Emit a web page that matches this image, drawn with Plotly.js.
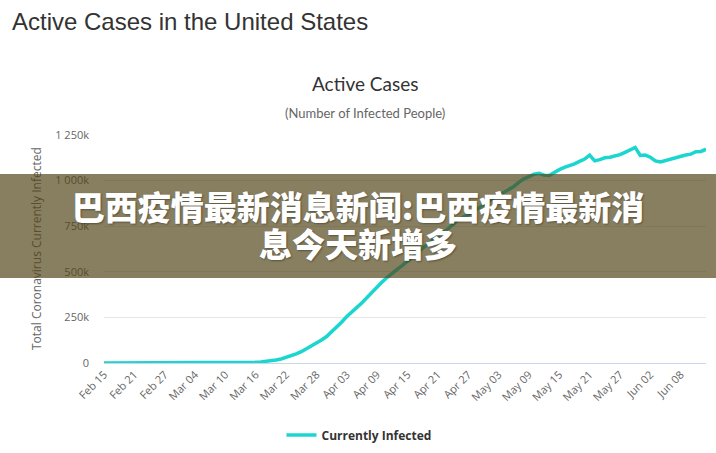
<!DOCTYPE html>
<html>
<head>
<meta charset="utf-8">
<script src="https://cdn.plot.ly/plotly-3.0.1.min.js"></script>
<style>
html,body{margin:0;padding:0;background:#fff;}
#wrap{position:relative;width:716px;height:453px;overflow:hidden;}
#chart{position:absolute;left:0;top:0;width:716px;height:453px;}
#banner{position:absolute;left:0;top:174px;width:716px;height:104px;background:rgba(80,66,20,0.68);
  display:flex;align-items:center;justify-content:center;text-align:center;pointer-events:none;}
#banner span{font-family:"Noto Sans CJK SC","Noto Sans",sans-serif;font-weight:900;font-size:33px;line-height:37px;color:#fff;
  text-shadow:1px 1px 2px rgba(0,0,0,0.35);display:block;width:640px;margin-top:-2px;}
</style>
</head>
<body>
<div id="wrap">
<div id="chart"></div>
<div id="banner"><span>巴西疫情最新消息新闻:巴西疫情最新消<br>息今天新增多</span></div>
</div>
<script>
// ---- data ----
const startDate = "2020-02-15";
// Currently infected (thousands), daily from Feb 15 to Jun 13, 2020
const activeK = [
  0.01,0.01,0.01,0.01,0.02,0.02,0.02,0.03,0.03,0.04,0.04,0.05,0.05,0.05,0.06, // Feb 15-29
  0.06,0.07,0.08,0.1,0.15,0.2,0.3,0.4,0.6,0.8,1.1,1.5,2.0,2.5,3.2,4.2,5.8,8,12,17,22,30,40,50,62,77,94,110,126,145,170, // Mar 1-31
  196,225,255,283,305,330,360,390,420,445,470,495,515,535,560,585,610,630,650,670,690,710,735,760,785,800,812,830,848,866, // Apr 1-30
  888,905,918,935,950,968,990,1010,1022,1035,1040,1030,1028,1045,1060,1072,1080,1092,1105,1118,1140,1108,1115,1125,1128,1135,1142,1155,1170,1182,1138, // May 1-31
  1140,1128,1108,1102,1110,1120,1128,1135,1140,1145,1158,1160,1172 // Jun 1-13
];
const tickDates = ["2020-02-15","2020-02-21","2020-02-27","2020-03-04","2020-03-10","2020-03-16","2020-03-22","2020-03-28","2020-04-03","2020-04-09","2020-04-15","2020-04-21","2020-04-27","2020-05-03","2020-05-09","2020-05-15","2020-05-21","2020-05-27","2020-06-02","2020-06-08"];
const tickLabels = ["Feb 15","Feb 21","Feb 27","Mar 04","Mar 10","Mar 16","Mar 22","Mar 28","Apr 03","Apr 09","Apr 15","Apr 21","Apr 27","May 03","May 09","May 15","May 21","May 27","Jun 02","Jun 08"];
const yTickVals = [0,250000,500000,750000,1000000,1250000];
const yTickText = ["0","250k","500k","750k","1 000k","1 250k"];
const seriesName = "Currently Infected";

// ---- build ----
const dates = [];
const values = [];
const d0 = new Date(startDate + "T00:00:00Z");
for (let i = 0; i < activeK.length; i++) {
  const d = new Date(d0.getTime() + i * 86400000);
  dates.push(d.toISOString().slice(0,10));
  values.push(activeK[i] * 1000);
}

const L = 104, R = 10, T = 135, B = 90, W = 716, H = 453;
const pw = W - L - R, ph = H - T - B;
const px = x => (x - L) / pw;
const py = y => (H - B - y) / ph;

const trace = {
  x: dates, y: values, type: "scatter", mode: "lines", name: seriesName,
  line: {color: "#1bd6cf", width: 3.5},
  hoverinfo: "x+y"
};

const layout = {
  width: W, height: H,
  margin: {l: L, r: R, t: T, b: B, pad: 0, autoexpand: false},
  paper_bgcolor: "#fff", plot_bgcolor: "#fff",
  showlegend: true,
  legend: {orientation: "h", x: px(359), xanchor: "center", y: py(435), yanchor: "middle",
    itemwidth: 30,
    font: {family: "Open Sans, sans-serif", size: 12, color: "#333", weight: "bold"}},
  xaxis: {type: "date", range: [dates[0], dates[dates.length-1]], tickvals: tickDates, ticktext: tickLabels,
    tickangle: -45, tickfont: {family: "Open Sans, sans-serif", size: 11, color: "#666"}, automargin: false,
    showgrid: false, zeroline: false, showline: true, linecolor: "#ccd6eb", linewidth: 1, ticks: "", fixedrange: true},
  yaxis: {range: [0, 1250000], tickvals: yTickVals, ticktext: yTickText, automargin: false,
    tickfont: {family: "Open Sans, sans-serif", size: 11, color: "#666"},
    showgrid: true, gridcolor: "#e6e6e6", gridwidth: 1, zeroline: false, showline: false, ticks: "",
    ticklabelstandoff: 14, fixedrange: true},
  annotations: [
    {text: "Active Cases in the United States", xref: "paper", yref: "paper", x: px(10), y: py(22),
     xanchor: "left", yanchor: "middle", showarrow: false,
     font: {family: "Liberation Sans, Arial, sans-serif", size: 24, color: "#333"}},
    {text: "Active Cases", xref: "paper", yref: "paper", x: px(365), y: py(83),
     xanchor: "center", yanchor: "middle", showarrow: false,
     font: {family: "Lato, sans-serif", size: 19, color: "#333"}},
    {text: "(Number of Infected People)", xref: "paper", yref: "paper", x: px(365), y: py(113),
     xanchor: "center", yanchor: "middle", showarrow: false,
     font: {family: "Lato, sans-serif", size: 13, color: "#666"}},
    {text: "Total Coronavirus Currently Infected", xref: "paper", yref: "paper", x: px(36), y: py(249),
     xanchor: "center", yanchor: "middle", textangle: -90, showarrow: false,
     font: {family: "Open Sans, sans-serif", size: 12, color: "#666"}}
  ]
};

Plotly.newPlot("chart", [trace], layout, {displayModeBar: false, staticPlot: true});
</script>
</body>
</html>
